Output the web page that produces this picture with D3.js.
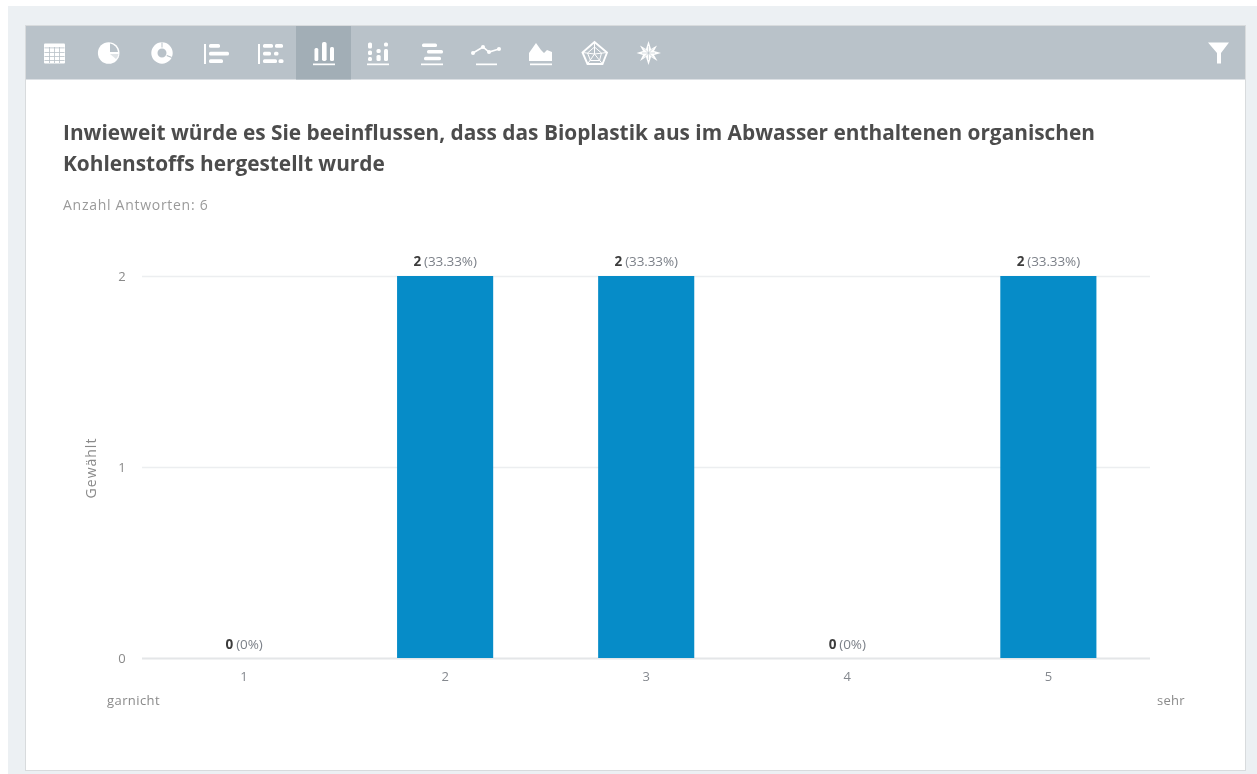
<!DOCTYPE html>
<html><head><meta charset="utf-8">
<script src="https://cdnjs.cloudflare.com/ajax/libs/d3/7.8.5/d3.min.js"></script>
<style>html,body{margin:0;padding:0;background:#fff;overflow:hidden}svg{display:block;font-family:"Open Sans",sans-serif;filter:blur(.35px)}</style>
</head><body><svg id="c" width="1257" height="774"></svg>
<script>
const categories=["1","2","3","4","5"];
const counts=[0,2,2,0,2];
const percentLabels=["0%","33.33%","33.33%","0%","33.33%"];
const yTicks=[0,1,2];
const titleLines=["Inwieweit würde es Sie beeinflussen, dass das Bioplastik aus im Abwasser enthaltenen organischen","Kohlenstoffs hergestellt wurde"];
const subtitle="Anzahl Antworten: 6";
const yAxisTitle="Gewählt";
const scaleEnds=["garnicht","sehr"];

const svg=d3.select("#c");
svg.append("rect").attr("x",8).attr("y",6).attr("width",1249).attr("height",768).attr("fill","#ecf0f3");
svg.append("rect").attr("x",25.5).attr("y",25.5).attr("width",1220).attr("height",745).attr("fill","#fff").attr("stroke","#d8dbdd");
svg.append("rect").attr("x",26).attr("y",26).attr("width",1219).attr("height",53.5).attr("fill","#b9c2c9");
svg.append("rect").attr("x",296).attr("y",26).attr("width",55).attr("height",53.5).attr("fill","#a2aeb6");

// toolbar icons
const ic=svg.append("g").attr("fill","#fff").attr("stroke","none");
const R=(g,x,y,w,h,r=0)=>g.append("rect").attr("x",x).attr("y",y).attr("width",w).attr("height",h).attr("rx",r);
const P=(d,fill="#fff",stroke="none",sw=0)=>ic.append("path").attr("d",d).attr("fill",fill).attr("stroke",stroke).attr("stroke-width",sw);
// table
R(ic,44,43.5,21,20,1);
[49,54,59].forEach(x=>R(ic,x,47,.8,16).attr("fill","#b9c2c9"));
[47.5,52,56,60].forEach(y=>R(ic,44.5,y,20,.8).attr("fill","#b9c2c9"));
// pie
ic.append("circle").attr("cx",108.7).attr("cy",53).attr("r",10.8);
P("M110 43.5 A9.5 9.5 0 0 1 118 52 L110 52Z","#b9c2c9");
P("M110 54 L118.5 54 A9.5 9.5 0 0 1 116 59Z","#dfe3e6");
// donut
ic.append("circle").attr("cx",162).attr("cy",53).attr("r",7.6).attr("fill","none").attr("stroke","#fff").attr("stroke-width",6.2);
P("M161.5 42.5 h1 v5 h-1Z M167 55 l5 2 l-.5 1 l-5 -2Z","#b9c2c9");
// hbar
R(ic,204,44,2,20);
R(ic,209,44,11,3.7,1.5);R(ic,209,51.7,20,3.7,1.5);R(ic,209,59.3,14,3.7,1.5);
// stacked hbar
R(ic,258,44,2,20);
R(ic,263,44,10,3.7,1.5);R(ic,275,44,8,3.7,1.5);R(ic,263,51.7,8,3.7,1.5);R(ic,274,51.7,4.5,3.7,1.5);R(ic,263,59.3,14,3.7,1.5);R(ic,278.5,59.3,5,3.7,1.5);
// column active
R(ic,314.5,48,3.8,13,1.5);R(ic,322,42,4.6,19,1.8);R(ic,330,47,4,14,1.5);R(ic,313,63.5,22,1.7);
// stacked column
[[368,42.5,4,6],[368,50.5,4,4.5],[368,57,4,4],[376.5,49,4.2,4],[376.5,55,4.2,6],[384,42.5,4,4],[384,49,4,12]].forEach(d=>R(ic,d[0],d[1],d[2],d[3],1.5));
R(ic,367,63.5,22,1.7);
// centered bars
R(ic,422,43.5,15,3.4,1.5);R(ic,427,50,16,3.4,1.5);R(ic,424,56.8,17,3.4,1.5);R(ic,421,63.5,22,1.7);
// line
P("M473 53 L483 47 L489 52 L499 49","none","#fff",1.6);
[[473,53],[483,47],[489,52],[499,49]].forEach(d=>ic.append("circle").attr("cx",d[0]).attr("cy",d[1]).attr("r",2));
R(ic,476,63.5,21,1.7);
// area
P("M529 61 L529 53 L536 43 L541 50 L544 53 L547 50 L552 52 L552 61Z");
R(ic,530,63.5,22,1.7);
// radar
P("M594.5 42 L607 52.5 L602.5 64 L587.5 64 L582.5 52.5Z","none","#fff",1.9);
P("M594.5 47 L601.5 53 L599.5 60.5 L590.5 60.5 L587.5 53Z M594.5 42 L594.5 54 M582.5 52.5 L594.5 54 L607 52.5 M587.5 64 L594.5 54 L602.5 64","none","#fff",1);
// polar star
P("M648.5 41 L651 49 L657 45.5 L654 51 L661 53 L654 55 L657.5 61 L651 57 L648.5 65 L646 57 L640 61 L643 55 L636.5 53 L643 51 L640 45.5 L646 49Z");
P("M648.5 46 V60 M642 53 H655 M644 48.5 L653 57.5 M653 48.5 L644 57.5","none","#b9c2c9",.6);
// filter
P("M1208 42.5 L1229 42.5 L1221 53 L1221 63.5 L1217 63.5 L1217 53Z");

// titles
const t=svg.append("g");
titleLines.forEach((s,i)=>t.append("text").attr("x",63).attr("y",139.5+i*31.5).attr("font-size",20.83).attr("font-weight",700).attr("fill","#4c4c4c").text(s));
t.append("text").attr("x",63).attr("y",210).attr("font-size",14).attr("fill","#9a9a9a").attr("letter-spacing",.72).text(subtitle);

// chart
const x=d3.scaleBand().domain(categories).range([143.7,1148.7]).paddingInner(0.522).paddingOuter(0.26);
const y=d3.scaleLinear().domain([0,2]).range([658,276]);
const g=svg.append("g");
g.selectAll("line.grid").data(yTicks).join("line").attr("class","grid")
 .attr("x1",142).attr("x2",1150).attr("y1",d=>y(d)+.5).attr("y2",d=>y(d)+.5)
 .attr("stroke",d=>d===0?"#e4e6e8":"#eceef0").attr("stroke-width",d=>d===0?2:1.5);
g.selectAll("rect.bar").data(counts).join("rect").attr("class","bar")
 .attr("x",(d,i)=>x(categories[i])).attr("width",x.bandwidth())
 .attr("y",d=>y(d)).attr("height",d=>658-y(d)).attr("fill","#068cc8");
g.selectAll("text.yt").data(yTicks).join("text").attr("class","yt")
 .attr("x",122).attr("y",d=>y(d)+4.5).attr("text-anchor","middle").attr("font-size",13).attr("fill","#8a8a8a").text(d=>d);
g.selectAll("text.xt").data(categories).join("text").attr("class","xt")
 .attr("x",d=>x(d)+x.bandwidth()/2).attr("y",681).attr("text-anchor","middle").attr("font-size",13).attr("fill","#85898f").text(d=>d);
const lab=g.selectAll("text.lab").data(counts).join("text").attr("class","lab")
 .attr("x",(d,i)=>x(categories[i])+x.bandwidth()/2).attr("y",d=>y(d)-(d===0?9:10.5)).attr("text-anchor","middle").attr("font-size",13.5).attr("letter-spacing",-.1);
lab.append("tspan").attr("font-weight",700).attr("fill","#3c3c3c").text(d=>d);
lab.append("tspan").attr("fill","#7c8189").attr("dx",3).text((d,i)=>"("+percentLabels[i]+")");
g.append("text").attr("transform","translate(96,468) rotate(-90)").attr("text-anchor","middle").attr("font-size",14).attr("letter-spacing",1).attr("fill","#8a8a8a").text(yAxisTitle);
g.append("text").attr("x",133.5).attr("y",705).attr("text-anchor","middle").attr("font-size",13).attr("letter-spacing",.4).attr("fill","#8a8a8a").text(scaleEnds[0]);
g.append("text").attr("x",1171).attr("y",705).attr("text-anchor","middle").attr("font-size",13).attr("letter-spacing",.3).attr("fill","#8a8a8a").text(scaleEnds[1]);
</script></body></html>
